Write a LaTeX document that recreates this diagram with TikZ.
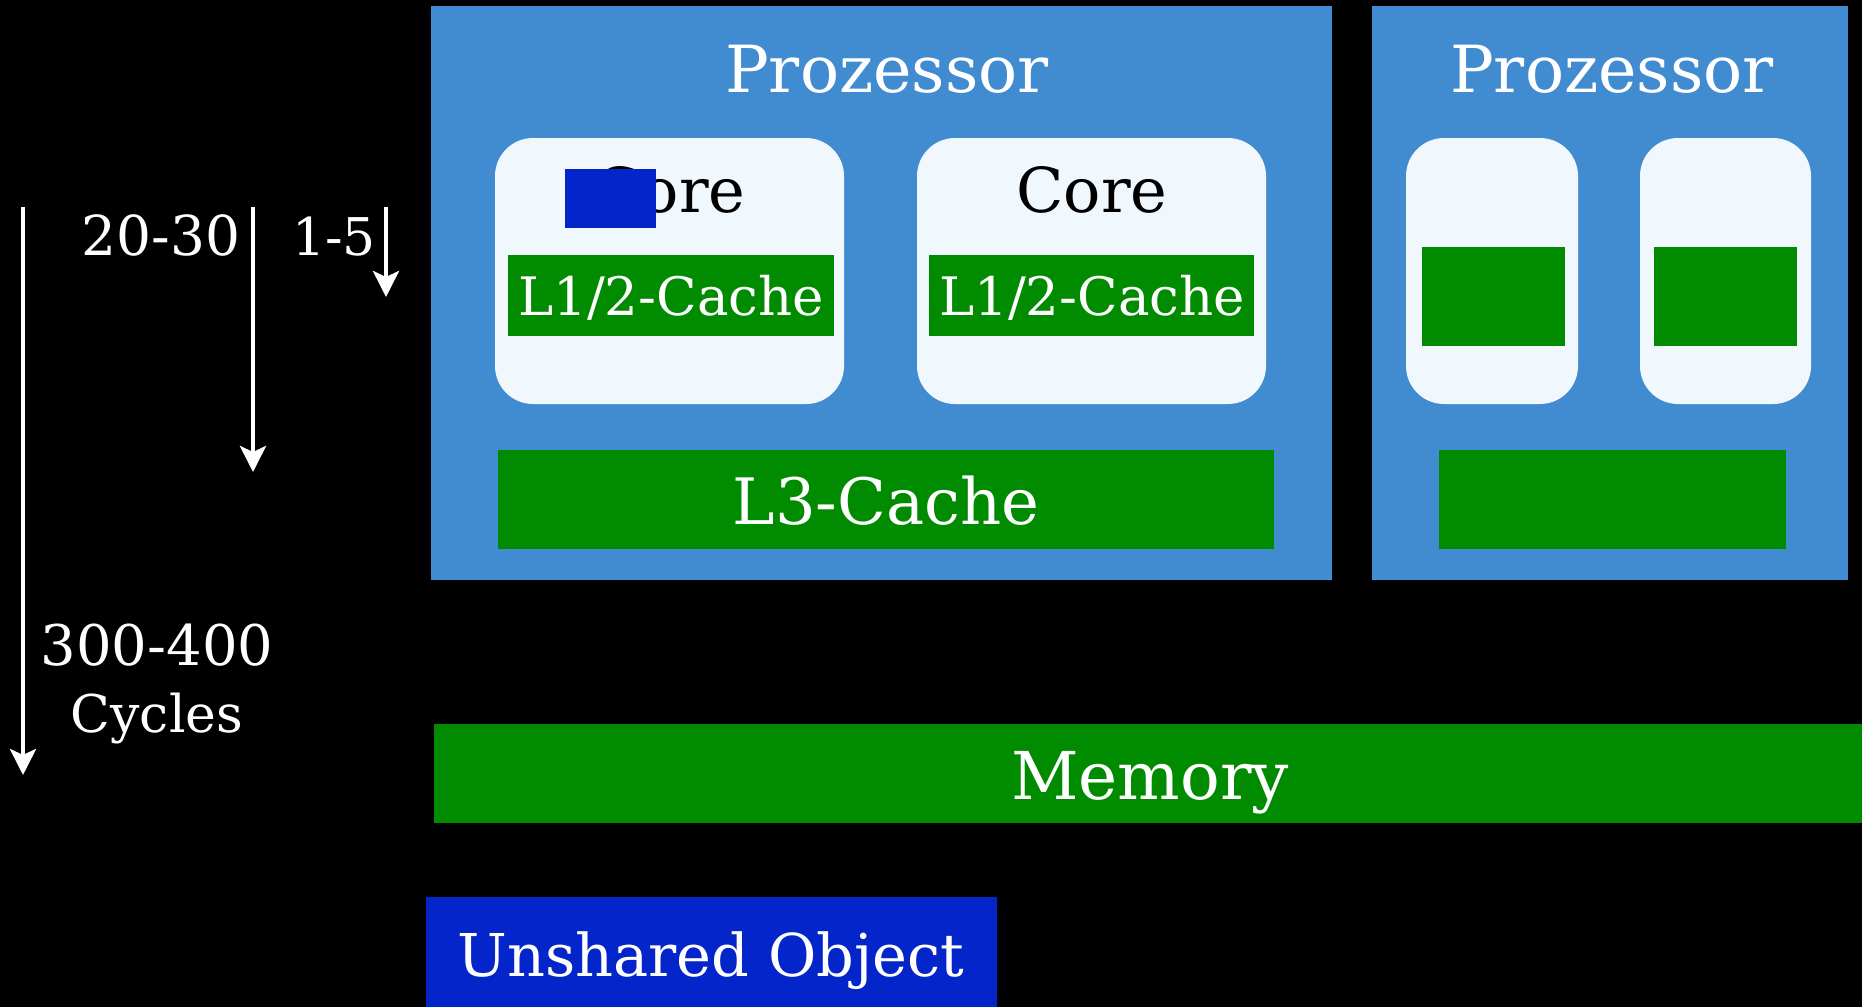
\documentclass[tikz,border=0pt]{standalone}
\usepackage{fontspec}
\setmainfont{DejaVu Serif}
\usetikzlibrary{arrows.meta}
\definecolor{procblue}{RGB}{65,139,208}
\definecolor{cachegreen}{RGB}{0,139,0}
\definecolor{objblue}{RGB}{3,37,201}
\definecolor{corefill}{RGB}{240,247,253}
\newcommand{\fs}[1]{\fontsize{#1}{#1}\selectfont}
\tikzset{
  box/.style={draw=none, inner sep=0pt, outer sep=0pt, anchor=north west},
  procbox/.style={box, fill=procblue},
  corebox/.style={box, fill=corefill, rounded corners=38pt},
  cachebox/.style={box, fill=cachegreen},
  objbox/.style={box, fill=objblue},
  wtext/.style={text=white, inner sep=0pt, anchor=base},
  btext/.style={text=black, inner sep=0pt, anchor=base},
  latency/.style={draw=white, line width=4.5pt,
    -{Stealth[length=26pt, width=26pt, inset=6pt]}},
}
\begin{document}
\begin{tikzpicture}[x=1pt, y=-1pt]
  % canvas
  \fill[black] (0,0) rectangle (1862,1007);
  \useasboundingbox (0,0) rectangle (1862,1007);

  % first processor
  \node[procbox, minimum width=901pt, minimum height=574pt] (p1) at (431,6) {};
  \node[wtext] (p1t) at (887,92) {\fs{65}Prozessor};
  \node[corebox, minimum width=349pt, minimum height=266pt] (c1) at (495,138) {};
  \node[corebox, minimum width=349pt, minimum height=266pt] (c2) at (917,138) {};
  \node[btext] (c1t) at (670,212) {\fs{62}Core};
  \node[btext] (c2t) at (1092,212) {\fs{62}Core};
  \node[cachebox, minimum width=326pt, minimum height=81pt] (l1a) at (508,255) {};
  \node[cachebox, minimum width=325pt, minimum height=81pt] (l1b) at (929,255) {};
  \node[wtext] (l1at) at (671,315) {\fs{53}L1/2-Cache};
  \node[wtext] (l1bt) at (1092,315) {\fs{53}L1/2-Cache};
  \node[cachebox, minimum width=776pt, minimum height=99pt] (l3a) at (498,450) {};
  \node[wtext] (l3at) at (886,524) {\fs{64}L3-Cache};
  % object held in the first core
  \node[objbox, minimum width=91pt, minimum height=59pt] (obj1) at (565,169) {};

  % second processor
  \node[procbox, minimum width=476pt, minimum height=574pt] (p2) at (1372,6) {};
  \node[wtext] (p2t) at (1612,92) {\fs{65}Prozessor};
  \node[corebox, minimum width=172pt, minimum height=266pt] (c3) at (1406,138) {};
  \node[corebox, minimum width=171pt, minimum height=266pt] (c4) at (1640,138) {};
  \node[cachebox, minimum width=143pt, minimum height=99pt] (l1c) at (1422,247) {};
  \node[cachebox, minimum width=143pt, minimum height=99pt] (l1d) at (1654,247) {};
  \node[cachebox, minimum width=347pt, minimum height=99pt] (l3b) at (1439,450) {};

  % main memory
  \node[cachebox, minimum width=1428pt, minimum height=99pt] (mem) at (434,724) {};
  \node[wtext] (memt) at (1150,799) {\fs{66}Memory};

  % legend object
  \node[objbox, minimum width=571pt, minimum height=110pt] (uo) at (426,897) {};
  \node[wtext] (uot) at (711,976) {\fs{59}Unshared Object};

  % latency arrows
  \coordinate (memtop) at (23,207);
  \coordinate (membot) at (23,775);
  \coordinate (l3top) at (253,207);
  \coordinate (l3bot) at (253,472);
  \coordinate (l1top) at (386,207);
  \coordinate (l1bot) at (386,297);
  \draw[latency] (memtop) -- (membot);
  \draw[latency] (l3top) -- (l3bot);
  \draw[latency] (l1top) -- (l1bot);
  \node[wtext] (lat3) at (161,255) {\fs{55}20-30};
  \node[wtext] (lat1) at (334,255) {\fs{52}1-5};
  \node[wtext] (latm) at (157,665) {\fs{56}300-400};
  \node[wtext] (latc) at (157,732) {\fs{52}Cycles};
\end{tikzpicture}
\end{document}
